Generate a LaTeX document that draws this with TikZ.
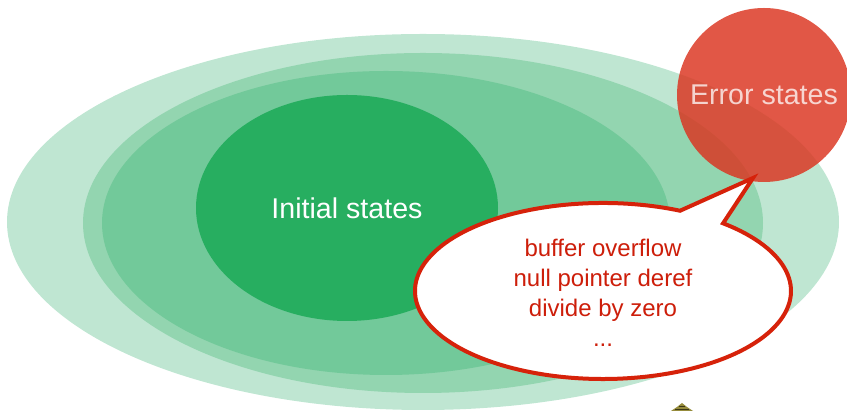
\documentclass[tikz,border=0pt]{standalone}
\usepackage{fontspec}
\setmainfont{Liberation Sans}
\usetikzlibrary{shapes.geometric}

\definecolor{greenA}{RGB}{191,230,210}
\definecolor{greenB}{RGB}{147,213,176}
\definecolor{greenC}{RGB}{114,201,154}
\definecolor{greenD}{RGB}{39,174,96}
\definecolor{errred}{RGB}{219,53,32}
\definecolor{bubblered}{RGB}{214,34,10}
\definecolor{textred}{RGB}{205,30,10}
\definecolor{hatolive}{RGB}{150,140,60}

\tikzset{
  region/.style={ellipse, draw=none, inner sep=0pt},
  statelabel/.style={text=white, font=\fontsize{28.6}{32}\selectfont},
  bubbleline/.style={draw=bubblered, line width=4pt, fill=white, line join=miter},
  bubbletext/.style={text=textred, align=center,
    font=\fontsize{24}{30}\selectfont}
}

\begin{document}
\begin{tikzpicture}[x=1pt, y=1pt]
  \useasboundingbox (0,0) rectangle (847,411);
  \clip (0,0) rectangle (847,411);

  % nested state spaces
  \node[region, fill=greenA, minimum width=832pt, minimum height=376pt] (reach) at (423,189) {};
  \node[region, fill=greenB, minimum width=680pt, minimum height=340pt] (approx) at (423,188) {};
  \node[region, fill=greenC, minimum width=568pt, minimum height=304pt] (inv) at (386,188) {};
  \node[region, fill=greenD, minimum width=302pt, minimum height=226pt] (init) at (347,203) {};
  \node[statelabel] (initlabel) at (init.center) {Initial states};

  % error region
  \node[circle, fill=errred, fill opacity=0.83, minimum size=174pt, inner sep=0pt] (err) at (764,316) {};
  \node[statelabel, text opacity=0.75] (errlabel) at (err.center) {Error states};

  % speech bubble pointing at the error region
  \coordinate (tip) at (753,233);
  \draw[bubbleline] (603,120) ++(65.8:188 and 88)
    arc[start angle=65.8, end angle=410.3, x radius=188pt, y radius=88pt]
    -- (tip) -- cycle;
  \node[bubbletext] (errs) at (603,118)
    {buffer overflow\\null pointer deref\\divide by zero\\...};

  % small emblem at the lower edge
  \fill[hatolive] (671,0) -- (677,4) -- (682,8) -- (687,4) -- (693,0) -- cycle;
  \draw[black!60!hatolive, line width=0.8pt] (675,2) -- (689,2) (679,5) -- (685,5);
\end{tikzpicture}
\end{document}
